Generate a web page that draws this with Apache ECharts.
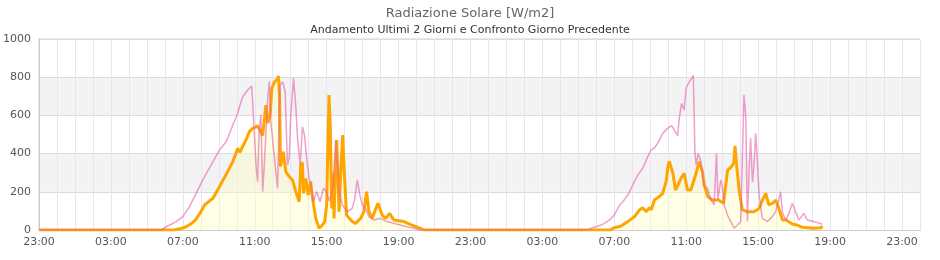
<!DOCTYPE html>
<html><head><meta charset="utf-8">
<script src="https://cdn.jsdelivr.net/npm/echarts@6/dist/echarts.min.js"></script>
<style>html,body{margin:0;padding:0;background:#fff}#c{width:940px;height:260px}</style>
</head><body><div id="c"></div>
<script>
// hours counted from 23:00 of the first night
const startClock = 23;
const hourSpan = 49;
const labelEvery = 4;
const yMax = 1000;
const yStep = 200;
const titleText = 'Radiazione Solare [W/m2]';
const subtitleText = 'Andamento Ultimi 2 Giorni e Confronto Giorno Precedente';
const currentName = 'Ultimi 2 Giorni';
const previousName = 'Giorno Precedente';

// current (orange) — day 1
const currentDay1 = [
[0,0],[7.5,0],[7.63,3],[7.9,8],[8.19,17],[8.5,35],[8.74,57],[9.0,95],[9.21,131],[9.45,150],[9.67,166],[9.85,195],[10.04,227],[10.2,255],[10.41,291],[10.6,325],[10.78,358],[10.95,400],[11.05,428],[11.18,407],[11.3,432],[11.42,454],[11.55,480],[11.7,515],[11.85,530],[11.98,536],[12.16,545],[12.3,520],[12.44,494],[12.53,489],[12.62,654],[12.72,560],[12.85,600],[12.95,742],[13.1,775],[13.25,790],[13.32,806],[13.38,700],[13.43,332],[13.52,380],[13.58,410],[13.65,360],[13.73,305],[13.92,279],[14.1,262],[14.28,201],[14.47,148],[14.56,340],[14.65,353],[14.71,192],[14.84,270],[14.97,183],[15.11,253],[15.2,175],[15.39,61],[15.58,9],[15.76,26],[15.89,44],[16.0,131],[16.07,450],[16.13,707],[16.2,550],[16.28,113],[16.35,300],[16.41,61],[16.48,300],[16.56,471],[16.69,96],[16.78,300],[16.89,497],[16.98,300],[17.11,78],[17.42,44],[17.61,35],[17.89,61],[18.07,96],[18.22,201],[18.35,96],[18.53,61],[18.85,140],[19.09,78],[19.28,61],[19.5,87],[19.73,52],[20.29,44],[20.75,26],[21.21,9],[21.4,0]
];
// current (orange) — day 2
const currentDay2 = [
[31.8,0],[31.92,9],[32.38,21],[32.75,44],[33.12,70],[33.4,105],[33.58,117],[33.76,96],[33.95,117],[34.05,105],[34.23,157],[34.5,175],[34.69,192],[34.88,253],[34.98,330],[35.05,360],[35.15,360],[35.25,300],[35.4,209],[35.55,236],[35.7,270],[35.88,297],[36.07,209],[36.25,209],[36.52,288],[36.72,358],[36.81,366],[36.9,305],[37.0,236],[37.19,175],[37.45,157],[37.8,157],[38.07,140],[38.3,314],[38.5,330],[38.64,350],[38.71,440],[38.8,340],[38.95,201],[39.12,105],[39.4,96],[39.77,96],[40.05,113],[40.2,148],[40.42,192],[40.6,131],[40.8,140],[40.97,157],[41.15,113],[41.35,52],[41.55,52],[41.68,44],[41.92,30],[42.17,26],[42.45,14],[43.1,9],[43.5,12],[43.57,21]
];
// previous-day comparison (pink) — day 1
const previousDay1 = [
[0,0],[6.8,0],[7.08,17],[7.35,30],[7.63,44],[8.0,70],[8.37,122],[8.74,192],[9.11,262],[9.57,340],[10.04,419],[10.41,462],[10.6,505],[10.78,550],[11.05,611],[11.2,660],[11.33,698],[11.61,733],[11.83,754],[11.92,602],[12.07,340],[12.16,253],[12.25,532],[12.34,602],[12.44,201],[12.53,340],[12.71,672],[12.81,777],[12.9,560],[13.09,384],[13.27,218],[13.4,759],[13.55,775],[13.69,724],[13.82,340],[13.92,380],[14.0,602],[14.16,794],[14.28,650],[14.38,480],[14.53,340],[14.65,541],[14.76,500],[14.89,375],[15.02,270],[15.11,250],[15.26,148],[15.45,201],[15.63,148],[15.82,218],[16.0,201],[16.15,150],[16.37,230],[16.5,470],[16.6,330],[16.7,200],[16.87,131],[17.15,96],[17.42,113],[17.57,166],[17.7,262],[17.85,183],[17.98,131],[18.16,113],[18.35,70],[18.63,52],[18.99,61],[19.36,44],[19.92,30],[20.47,17],[21.02,5],[21.2,0]
];
// previous-day comparison (pink) — day 2
const previousDay2 = [
[30.5,0],[30.72,9],[31.27,26],[31.73,52],[32.0,78],[32.29,131],[32.47,148],[32.75,183],[33.03,236],[33.3,288],[33.58,323],[33.86,384],[34.04,419],[34.22,428],[34.41,454],[34.69,506],[34.96,532],[35.19,546],[35.38,515],[35.52,494],[35.61,585],[35.74,663],[35.88,628],[35.99,742],[36.12,768],[36.39,810],[36.43,650],[36.48,410],[36.55,340],[36.66,401],[36.81,360],[37.0,227],[37.18,218],[37.37,160],[37.55,131],[37.68,401],[37.76,160],[37.92,262],[38.02,220],[38.11,131],[38.29,78],[38.48,44],[38.66,9],[38.85,26],[39.03,44],[39.12,375],[39.21,707],[39.31,593],[39.4,44],[39.49,300],[39.58,480],[39.68,250],[39.77,340],[39.86,506],[39.96,350],[40.05,183],[40.23,61],[40.51,44],[40.79,70],[40.97,96],[41.15,157],[41.25,201],[41.34,96],[41.52,52],[41.71,87],[41.9,140],[42.08,96],[42.26,52],[42.54,87],[42.73,52],[43.09,44],[43.56,31]
];

const currentData = currentDay1.concat(currentDay2);
const previousData = previousDay1.concat(previousDay2);

const font = 'DejaVu Sans';
function clockLabel(h) {
  if (h % labelEvery !== 0) return '';
  const c = (startClock + h) % 24;
  return (c < 10 ? '0' : '') + c + ':00';
}

const chart = echarts.init(document.getElementById('c'), null, {renderer: 'canvas'});
chart.setOption({
  animation: false,
  backgroundColor: '#ffffff',
  title: [
    {text: titleText, left: 'center', top: 2,
     textStyle: {fontFamily: font, fontSize: 13, fontWeight: 'normal', color: '#666'}},
    {text: subtitleText, left: 'center', top: 20,
     textStyle: {fontFamily: font, fontSize: 11, fontWeight: 'normal', color: '#333'}}
  ],
  grid: {left: 35, right: 20, top: 39, bottom: 30, show: true, borderColor: '#d0d0d0', borderWidth: 1, containLabel: false},
  xAxis: {
    type: 'value', min: 0, max: hourSpan, interval: 1,
    axisLine: {show: true, lineStyle: {color: '#cccccc'}},
    axisTick: {show: false},
    axisLabel: {formatter: clockLabel, fontFamily: font, fontSize: 11, color: '#555', margin: 7, showMaxLabel: false},
    splitLine: {show: true, lineStyle: {color: '#e7e5f5', width: 1}}
  },
  yAxis: {
    type: 'value', min: 0, max: yMax, interval: yStep,
    axisLine: {show: true, lineStyle: {color: '#cccccc'}},
    axisTick: {show: false},
    axisLabel: {formatter: v => String(v), fontFamily: font, fontSize: 11, color: '#555', margin: 8},
    splitLine: {show: true, lineStyle: {color: '#dcdcdc'}},
    splitArea: {show: true, areaStyle: {color: ['#ffffff', '#f3f3f4']}}
  },
  series: [
    {name: currentName, type: 'line', data: currentData, showSymbol: false, z: 2,
     lineStyle: {color: '#FFA500', width: 3}, itemStyle: {color: '#FFA500'},
     areaStyle: {color: 'rgba(255,255,190,0.55)', origin: 'start'}},
    {name: previousName, type: 'line', data: previousData, showSymbol: false, z: 3,
     lineStyle: {color: 'rgba(232,95,165,0.6)', width: 1.5}, itemStyle: {color: 'rgba(232,95,165,0.6)'}}
  ]
});
</script>
</body></html>
